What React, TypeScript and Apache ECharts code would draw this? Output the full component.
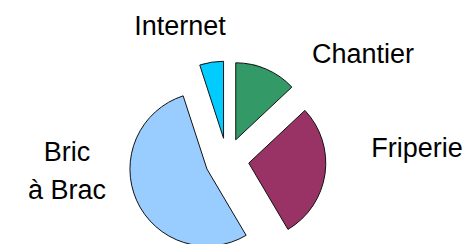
import React, { useEffect, useRef } from "react";
import * as echarts from "echarts";

const categories = ["Chantier", "Friperie", "Bric\nà Brac", "Internet"];
const values = [13, 28.5, 53.5, 5];
const colors = ["#339966", "#993366", "#99CCFF", "#00CCFF"];
const labelCenters: [number, number][] = [
  [363, 54],
  [417, 148],
  [67, 171],
  [180, 26],
];

export default function App() {
  const ref = useRef<HTMLDivElement>(null);
  useEffect(() => {
    document.body.style.margin = "0";
    const chart = echarts.init(ref.current!, null, { renderer: "svg" });
    chart.setOption({
      animation: false,
      backgroundColor: "#ffffff",
      graphic: categories.map((name, i) => ({
        type: "text",
        x: labelCenters[i][0],
        y: labelCenters[i][1],
        style: {
          text: name,
          fill: "#000000",
          font: "27px 'Liberation Sans', Arial, sans-serif",
          lineHeight: 38,
          align: "center",
          verticalAlign: "middle",
        },
      })),
      series: [
        {
          type: "pie",
          center: [227, 160],
          radius: 77,
          startAngle: 90,
          clockwise: true,
          selectedMode: "multiple",
          selectedOffset: 22,
          emphasis: { disabled: true },
          itemStyle: { borderColor: "#111111", borderWidth: 1 },
          label: { show: false },
          labelLine: { show: false },
          data: categories.map((name, i) => ({
            name,
            value: values[i],
            selected: true,
            itemStyle: { color: colors[i] },
          })),
        },
      ],
    });
    return () => chart.dispose();
  }, []);
  return <div ref={ref} style={{ width: 468, height: 244 }} />;
}
